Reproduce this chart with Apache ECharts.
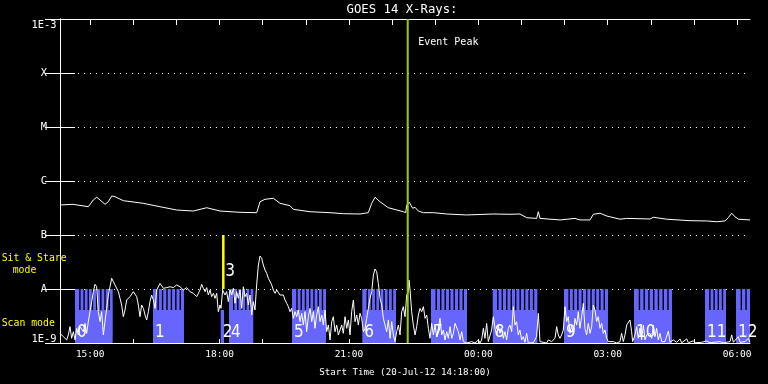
<!DOCTYPE html>
<html><head><meta charset="utf-8">
<script src="https://cdn.jsdelivr.net/npm/echarts@6/dist/echarts.min.js"></script>
<style>html,body{margin:0;padding:0;background:#000}#c{width:768px;height:384px}</style>
</head><body><div id="c"></div>
<script>
// ---------- DATA (time in minutes since 20-Jul-12 14:18:00) ----------
const SPAN_MIN = 960;
const hourTicks = [42,102,162,222,282,342,402,462,522,582,642,702,762,822,882,942];
const xLabelTicks = [42,222,402,582,762,942];
const xLabels = ['15:00','18:00','21:00','00:00','03:00','06:00'];
const yTickLabels = ['1E-9','A','B','C','M','X','1E-3']; // decades 1e-9 .. 1e-3

// GOES 14 long channel (1-8 A), W/m^2 x 1e-7
const upT = [0,18.1,39.4,46.3,51.1,55.7,62.6,67.2,71.9,76.5,88.1,115.9,139.1,162.4,185.5,204.1,222.6,250.4,273.7,278.3,285.2,296.8,306.1,320.0,324.6,347.8,375.7,394.2,417.4,428.9,433.7,438.3,445.2,456.8,477.6,481.0,482.4,486.0,490.7,493.9,498.5,505.5,519.4,538.0,565.8,602.8,626.1,640.0,649.3,663.2,665.5,667.8,695.7,716.5,723.5,737.4,742.0,751.3,760.6,779.1,788.4,820.9,825.5,844.1,876.5,899.7,913.6,925.2,929.8,934.5,939.1,943.7,960];
const upF_e7 = [3.59,3.70,3.34,4.45,4.99,4.45,3.70,4.13,5.28,5.12,4.32,3.86,3.34,2.90,2.78,3.20,2.78,2.63,2.59,4.13,4.58,4.79,3.86,3.49,2.99,2.70,2.59,2.48,2.45,2.59,3.86,4.99,4.13,3.20,2.70,2.59,3.59,4.03,3.12,3.26,2.78,2.59,2.59,2.45,2.35,2.45,2.42,2.45,2.09,2.03,2.70,2.03,1.90,2.03,1.90,1.90,2.42,2.53,2.25,1.96,2.03,1.98,2.13,1.96,1.84,1.82,1.76,1.82,2.09,2.53,2.18,1.96,1.90];

// GOES 14 short channel (0.5-4 A), W/m^2 x 1e-9
const lowT = [0,4.6,9.3,11.6,13.9,16.2,18.6,20.9,23.2,25.5,27.8,32.5,34.8,37.1,39.4,41.7,44.1,46.4,48.7,51.0,53.3,55.7,58.0,60.3,62.6,64.9,67.3,69.6,71.9,74.2,76.5,81.2,83.5,85.8,88.1,90.4,92.8,97.4,102.0,106.7,109.0,111.3,113.6,116.0,118.3,120.6,122.9,125.2,127.5,129.9,132.2,134.5,139.1,143.8,148.4,153.1,157.7,162.3,167.0,171.6,176.2,180.9,185.5,190.2,194.8,
197.1,199.4,201.8,204.1,206.4,208.7,211.0,213.4,215.7,218.0,220.3,222.6,224.0,226.3,229.6,231.9,234.2,236.5,238.9,241.2,243.5,245.8,248.1,250.5,252.8,255.1,257.4,259.7,262.1,264.4,266.7,269.0,271.3,273.6,276.0,278.3,280.6,282.9,285.2,287.6,289.9,292.2,294.5,296.8,299.2,301.5,303.8,306.1,308.4,310.8,313.1,315.4,317.7,320.0,322.3,324.7,327.0,329.3,331.6,333.9,336.3,338.6,340.9,343.2,345.5,347.9,350.2,352.5,354.8,357.1,359.4,361.8,364.1,366.4,368.7,371.0,373.4,375.7,378.0,380.3,382.6,385.0,387.3,
389.6,391.9,394.2,396.6,398.9,401.2,403.5,405.8,408.2,410.5,412.8,415.1,417.4,419.7,422.1,424.4,426.7,429.0,431.3,433.7,436.0,438.3,440.6,442.9,445.3,447.6,449.9,452.2,454.5,456.9,459.2,461.5,463.8,466.1,468.4,470.8,473.1,475.4,477.7,480.0,482.4,484.7,485.6,487.0,489.3,491.6,494.0,496.3,498.6,500.9,503.2,505.6,507.9,510.2,512.5,514.8,517.1,519.5,521.8,524.1,526.4,528.7,531.1,533.4,535.7,538.0,540.3,542.7,545.0,547.3,549.6,551.9,554.2,556.6,558.9,561.2,565.8,572.8,577.4,582.1,
584.3,586.6,589.0,591.3,593.6,595.9,598.2,600.5,602.9,605.2,607.5,609.8,612.1,614.4,616.8,619.1,621.4,623.7,626.0,628.4,630.7,633.0,635.3,637.6,639.9,642.3,644.6,646.9,649.2,651.5,658.5,663.1,665.5,667.8,670.1,677.1,679.4,684.0,688.7,691.0,693.3,695.6,697.9,700.3,702.6,704.9,707.2,709.5,711.8,714.2,716.5,718.8,721.1,723.4,725.8,728.1,730.4,732.7,735.0,737.4,739.7,742.0,744.3,746.6,748.9,751.3,753.6,755.9,758.2,760.5,762.9,769.8,774.5,779.1,
781.4,783.7,786.1,788.4,790.7,793.0,795.3,796.7,800.0,802.3,804.6,806.9,809.2,811.6,813.9,816.2,820.8,823.2,825.5,827.8,830.1,832.4,834.8,837.1,841.7,846.4,848.7,853.3,858.0,862.6,864.9,871.9,874.2,881.1,883.5,892.7,899.7,904.3,918.2,922.9,932.2,934.5,936.8,943.8,946.1,953.0,957.7,960.0];
const lowF_e9 = [1.51,1.31,1.14,1.41,2.01,1.22,1.62,1.14,1.87,1.41,2.01,1.62,2.31,1.51,2.48,3.80,5.83,8.93,12.2,11.0,3.80,2.48,3.80,1.41,2.48,4.38,7.74,11.0,15.8,13.7,11.9,8.93,6.72,5.05,3.07,4.08,6.26,7.21,8.93,7.21,5.05,3.07,5.05,4.38,3.30,2.67,3.80,5.83,7.74,6.26,4.38,9.58,12.7,10.3,10.6,11.0,10.6,11.9,11.0,9.58,10.6,8.93,8.31,7.21,9.58,
12.2,10.3,8.93,10.6,7.74,9.58,7.21,8.31,6.72,8.31,3.80,5.05,4.38,9.58,7.74,8.93,5.83,9.58,7.74,10.3,5.43,8.93,6.72,9.58,4.38,11.0,7.21,8.31,5.05,7.74,3.30,5.83,4.08,11.9,27.8,40.8,37.0,27.8,22.5,19.5,15.8,14.7,11.9,9.58,8.31,9.58,8.93,7.74,7.21,7.74,6.26,5.43,4.71,3.80,4.38,2.86,3.80,3.07,4.08,2.48,3.54,2.15,3.80,1.62,3.07,4.38,2.48,3.80,1.87,3.30,4.71,2.48,3.30,2.15,4.08,1.62,2.15,1.14,2.48,3.07,1.62,2.15,1.41,
1.41,2.15,1.51,3.07,1.87,2.67,1.41,3.80,6.26,2.48,3.30,2.15,3.54,2.86,1.62,1.87,2.86,4.38,6.72,8.93,18.2,23.5,20.9,12.7,6.72,5.05,2.86,2.15,1.62,2.67,1.22,2.48,1.41,1.06,1.62,2.15,1.41,3.80,4.71,3.07,7.74,8.93,14.7,9.58,3.80,2.15,1.41,2.01,3.30,4.38,3.80,4.71,2.86,3.30,1.87,1.22,2.31,1.41,2.15,1.31,1.87,2.86,1.41,1.74,1.14,1.62,1.22,2.01,1.22,1.51,2.31,2.48,1.62,1.14,1.62,1.06,1.0,1.06,1.0,1.14,
1.0,1.14,1.87,1.22,2.31,1.06,1.0,1.74,3.07,1.87,1.41,2.15,1.51,1.87,1.22,1.62,1.14,1.87,2.15,1.62,4.71,2.15,2.48,1.41,1.74,1.14,1.31,1.03,1.51,1.0,1.01,1.31,3.54,1.06,1.0,1.0,1.14,1.06,1.22,2.01,1.41,1.22,1.41,1.74,4.71,2.48,3.07,1.51,2.15,1.41,2.86,2.15,3.80,1.87,3.07,5.43,1.87,1.41,2.31,1.51,2.01,5.05,4.08,2.48,3.07,1.87,2.31,1.51,1.74,1.22,1.06,1.06,1.0,1.06,
1.51,1.06,1.41,2.15,2.31,2.67,1.62,1.06,1.41,2.01,1.22,1.87,1.14,2.15,1.14,1.41,1.51,1.22,2.15,1.31,1.87,1.14,1.51,1.06,1.06,1.67,1.03,1.14,1.03,1.19,1.01,1.19,1.01,1.10,1.01,1.03,1.09,1.01,1.06,1.01,1.06,1.41,1.03,1.31,1.03,1.06,1.22,1.03];

// Scan-mode blocks (start/end minutes), number of rasters, label
const blockStart  = [20.9,129.4,223.6,235.1,322.8,420.6,516.2,602.0,701.2,798.6,897.4,940.5];
const blockEnd    = [73.3,172.5,228.2,268.9,370.1,467.5,566.3,664.1,762.4,851.5,926.6,960];
const blockRasters= [9,7,0,6,8,8,8,10,10,8,5,3];
const blockLabel  = ['0','1','2','4','5','6','7','8','9','10','11','12'];
// Sit & stare observations
const ssTime = [227.2];
const ssLabel = ['3'];
// Event peak
const eventTime = 483.8;

// ---------- CHART ----------
const Y_MIN = 1e-9, Y_MAX = 1e-3;
const SCAN_LOW = 4.08e-9, SCAN_HIGH = 1e-8;   // band levels for scan-mode blocks
const SS_LOW = 1e-8, SS_HIGH = 1e-7;          // sit & stare marker band
const BLUE = '#6666ff', GREEN = '#99cc00', YELLOW = '#ffff00', WHITE = '#ffffff';
const MONO = "'DejaVu Sans Mono','Liberation Mono',monospace";
const NARROW = "'Liberation Sans Narrow','DejaVu Sans Condensed','DejaVu Sans',sans-serif";

const upData = upT.map((t,i)=>[t, upF_e7[i]*1e-7]);
const lowData = lowT.map((t,i)=>[t, lowF_e9[i]*1e-9]);
const blockData = blockStart.map((s,i)=>[s, blockEnd[i], blockRasters[i]]);

function renderBlock(params, api){
  const s = api.value(0), e = api.value(1), n = api.value(2);
  const cs = params.coordSys;
  const right = cs.x + cs.width;
  const pB = api.coord([s, Y_MIN]);
  const pM = api.coord([e, SCAN_LOW]);
  const pT = api.coord([e, SCAN_HIGH]);
  const x0 = pB[0], xe = pM[0], x1 = Math.min(xe, right);
  const children = [{type:'rect', shape:{x:x0, y:pM[1], width:x1-x0, height:pB[1]-pM[1]}, style:{fill:BLUE}}];
  if (n > 0){
    const w = (xe-x0)/n, gap = 1.4;
    for (let i=0;i<n;i++){
      const a = x0 + i*w + (i>0?gap:0);
      const b = Math.min(x0 + (i+1)*w, right);
      if (b > a) children.push({type:'rect', shape:{x:a, y:pT[1], width:b-a, height:pM[1]-pT[1]}, style:{fill:BLUE}});
    }
  }
  return {type:'group', children};
}
function renderBlockLabel(params, api){
  const s = api.value(0);
  const p = api.coord([s, Y_MIN]);
  return {type:'text', style:{text: blockLabel[params.dataIndex], x:p[0]+2, y:p[1]-10,
    fill: WHITE, font: '17px '+NARROW, align:'left', verticalAlign:'middle', textAlign:'left', textVerticalAlign:'middle'}};
}
function renderSS(params, api){
  const t = api.value(0);
  const a = api.coord([t, SS_LOW]), b = api.coord([t, SS_HIGH]);
  return {type:'group', children:[
    {type:'line', shape:{x1:a[0], y1:a[1], x2:b[0], y2:b[1]}, style:{stroke:YELLOW, lineWidth:2.5}},
    {type:'text', style:{text: ssLabel[params.dataIndex], x:a[0]+2, y:a[1]-17, fill:WHITE, font:'17px '+NARROW,
      align:'left', verticalAlign:'middle', textAlign:'left', textVerticalAlign:'middle'}}
  ]};
}
function renderEvent(params, api){
  const t = api.value(0);
  const a = api.coord([t, Y_MIN]), b = api.coord([t, Y_MAX]);
  return {type:'group', children:[
    {type:'line', shape:{x1:a[0], y1:a[1], x2:b[0], y2:b[1]}, style:{stroke:GREEN, lineWidth:2}},
    {type:'text', style:{text:'Event Peak', x:a[0]+10.5, y:b[1]+23.5, fill:WHITE, font:'10px '+MONO,
      align:'left', verticalAlign:'middle', textAlign:'left', textVerticalAlign:'middle'}}
  ]};
}

const chart = echarts.init(document.getElementById('c'));
const axisLine = {show:true, lineStyle:{color:WHITE, width:1}};
const yLabelFont = {color:WHITE, fontFamily:MONO, fontSize:10.4, lineHeight:12};
chart.setOption({
  backgroundColor:'#000',
  animation:false,
  grid:{left:60, right:18, top:19, bottom:41, containLabel:false},
  graphic:[
    {type:'text', style:{text:'GOES 14 X-Rays:', x:402, y:9.5, fill:WHITE, font:'12.3px '+MONO, align:'center', verticalAlign:'middle', textAlign:'center', textVerticalAlign:'middle'}},
    {type:'text', style:{text:'Sit & Stare', x:1.7, y:258.5, fill:YELLOW, font:'9.8px '+MONO, align:'left', verticalAlign:'middle', textAlign:'left', textVerticalAlign:'middle'}},
    {type:'text', style:{text:'mode', x:12.7, y:270.5, fill:YELLOW, font:'9.8px '+MONO, align:'left', verticalAlign:'middle', textAlign:'left', textVerticalAlign:'middle'}},
    {type:'text', style:{text:'Scan mode', x:1.7, y:323.8, fill:YELLOW, font:'9.8px '+MONO, align:'left', verticalAlign:'middle', textAlign:'left', textVerticalAlign:'middle'}}
  ],
  xAxis:[
    {type:'value', min:0, max:SPAN_MIN, position:'bottom',
     name:'Start Time (20-Jul-12 14:18:00)', nameLocation:'middle', nameGap:25,
     nameTextStyle:{color:WHITE, fontFamily:MONO, fontSize:9.2},
     axisLine, splitLine:{show:false},
     axisTick:{show:true, inside:true, length:4, customValues:hourTicks, lineStyle:{color:WHITE}},
     axisLabel:{show:true, customValues:xLabelTicks, color:WHITE, fontFamily:MONO, fontSize:9.5, margin:7,
       formatter:v=>{const i=xLabelTicks.indexOf(Math.round(v)); return i>=0?xLabels[i]:'';}}},
    {type:'value', min:0, max:SPAN_MIN, position:'top',
     axisLine, splitLine:{show:false},
     axisTick:{show:true, inside:true, length:6, customValues:hourTicks, lineStyle:{color:WHITE}},
     axisLabel:{show:false}}
  ],
  yAxis:[
    {type:'log', logBase:10, min:Y_MIN, max:Y_MAX, position:'left',
     axisLine, axisTick:{show:true, inside:true, length:15, lineStyle:{color:WHITE}},
     splitLine:{show:true, lineStyle:{color:WHITE, width:1, type:[1,5]}},
     axisLabel:{show:true, color:WHITE, fontFamily:MONO, fontSize:10.4, margin:16, align:'center',
       rich:{
         top:Object.assign({padding:[12,0,0,0]}, yLabelFont),
         bot:Object.assign({padding:[0,0,7,0]}, yLabelFont),
         mid:yLabelFont
       },
       formatter:v=>{const e=Math.round(Math.log10(v)); const t=yTickLabels[e+9]||'';
         return e===-3 ? '{top|'+t+'}' : (e===-9 ? '{bot|'+t+'}' : '{mid|'+t+'}');}}},
    {type:'log', logBase:10, min:Y_MIN, max:Y_MAX, position:'right',
     axisLine, axisTick:{show:true, inside:true, length:15, lineStyle:{color:WHITE}},
     splitLine:{show:false}, axisLabel:{show:false}}
  ],
  series:[
    {type:'custom', name:'scan', renderItem:renderBlock, data:blockData, encode:{x:[0,1]}, z:1, silent:true, clip:true},
    {type:'custom', name:'scanLabels', renderItem:renderBlockLabel, data:blockStart.map(s=>[s]), encode:{x:0}, z:2, silent:true, clip:false},
    {type:'custom', name:'sitstare', renderItem:renderSS, data:ssTime.map(t=>[t]), encode:{x:0}, z:3, silent:true, clip:false},
    {type:'line', name:'long', data:upData, showSymbol:false, symbol:'none', lineStyle:{color:WHITE, width:1}, z:4, silent:true},
    {type:'line', name:'short', data:lowData, showSymbol:false, symbol:'none', lineStyle:{color:WHITE, width:1}, z:4, silent:true},
    {type:'custom', name:'event', renderItem:renderEvent, data:[[eventTime]], encode:{x:0}, z:5, silent:true, clip:false}
  ]
});
</script></body></html>
